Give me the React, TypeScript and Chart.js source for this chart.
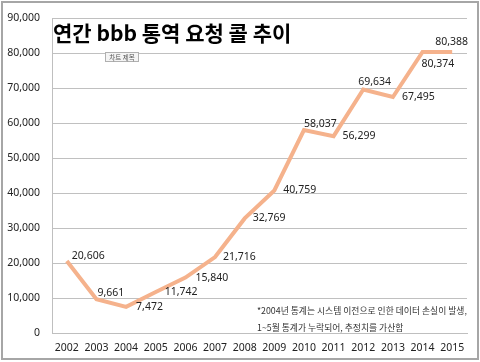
import React, { useEffect, useRef } from "react";
import { Chart, registerables } from "chart.js";

Chart.register(...registerables);

const years = ["2002", "2003", "2004", "2005", "2006", "2007", "2008", "2009", "2010", "2011", "2012", "2013", "2014", "2015"];
const calls = [20606, 9661, 7472, 11742, 15840, 21716, 32769, 40759, 58037, 56299, 69634, 67495, 80374, 80388];
const yMax = 90000;
const yStep = 10000;
const titleText = "연간 bbb 통역 요청 콜 추이";
const noteLines = ["*2004년 통계는 시스템 이전으로 인한 데이터 손실이 발생,", "1~5월 통계가 누락되어, 추정치를 가산함"];

// label placement relative to the point (dx, dy)
const labelOffsets: [number, number][] = [
  [5, -5], [1, -6], [10, 0], [9, 0], [10, 0], [8, 0], [8, 0],
  [9, 0], [0, -6], [9, 0], [-5, -7], [9, 0], [-1, 12], [-17, -10],
];

const NUM_FONT = "10.5px 'Noto Sans', 'Liberation Sans', sans-serif";

const overlayPlugin = {
  id: "overlay",
  afterDatasetsDraw(chart: any) {
    const ctx = chart.ctx;
    const meta = chart.getDatasetMeta(0);
    ctx.save();
    ctx.font = NUM_FONT;
    ctx.fillStyle = "#222";
    ctx.textAlign = "left";
    ctx.textBaseline = "middle";
    meta.data.forEach((pt: any, i: number) => {
      const [dx, dy] = labelOffsets[i];
      ctx.fillText(calls[i].toLocaleString("en-US"), pt.x + dx, pt.y + dy);
    });
    ctx.restore();
  },
  afterDraw(chart: any) {
    const ctx = chart.ctx;
    ctx.save();
    // frame
    ctx.strokeStyle = "#a6a6a6";
    ctx.lineWidth = 2;
    ctx.strokeRect(2, 2, 476, 357);
    // title
    ctx.fillStyle = "#000";
    ctx.font = "bold 21px 'Noto Sans CJK KR', sans-serif";
    ctx.textAlign = "left";
    ctx.textBaseline = "middle";
    ctx.fillText(titleText, 53, 33);
    // small button
    ctx.fillStyle = "#f4f4f4";
    ctx.fillRect(105.5, 52.5, 33, 9);
    ctx.strokeStyle = "#b0b0b0";
    ctx.lineWidth = 1;
    ctx.strokeRect(105.5, 52.5, 33, 9);
    ctx.fillStyle = "#555";
    ctx.font = "6.5px 'Noto Sans CJK KR', sans-serif";
    ctx.textAlign = "center";
    ctx.fillText("차트 제목", 122, 57.5);
    // footnote
    ctx.fillStyle = "#333";
    ctx.font = "8.8px 'Noto Sans CJK KR', sans-serif";
    ctx.textAlign = "left";
    ctx.fillText(noteLines[0], 257, 311);
    ctx.fillText(noteLines[1], 257, 328);
    ctx.restore();
  },
};

export default function App() {
  const ref = useRef<HTMLCanvasElement>(null);
  useEffect(() => {
    document.body.style.margin = "0";
    const chart = new Chart(ref.current!, {
      type: "line",
      data: {
        labels: years,
        datasets: [
          {
            data: calls,
            borderColor: "#F5B28C",
            borderWidth: 4,
            pointRadius: 0,
            tension: 0,
            fill: false,
          },
        ],
      },
      options: {
        responsive: false,
        animation: false,
        layout: { padding: { top: 15, right: 13, bottom: 3, left: 2 } },
        plugins: { legend: { display: false }, tooltip: { enabled: false } },
        scales: {
          x: {
            offset: true,
            grid: { display: false, drawTicks: false },
            border: { display: true, color: "#bfbfbf" },
            ticks: { color: "#222", font: { size: 10.5, family: "'Noto Sans', sans-serif" }, padding: 9, maxRotation: 0, autoSkip: false },
            afterFit: (s: any) => { s.height = 26; },
          },
          y: {
            min: 0,
            max: yMax,
            ticks: {
              stepSize: yStep,
              color: "#222",
              padding: 12,
              font: { size: 10.5, family: "'Noto Sans', sans-serif" },
              callback: (v: any) => Number(v).toLocaleString("en-US"),
            },
            grid: { color: "#c0c0c0", drawTicks: false },
            border: { display: true, color: "#bfbfbf" },
            afterFit: (s: any) => { s.width = 50; },
          },
        },
      },
      plugins: [overlayPlugin],
    });
    return () => chart.destroy();
  }, []);
  return <canvas ref={ref} width={480} height={362} style={{ display: "block" }} />;
}
